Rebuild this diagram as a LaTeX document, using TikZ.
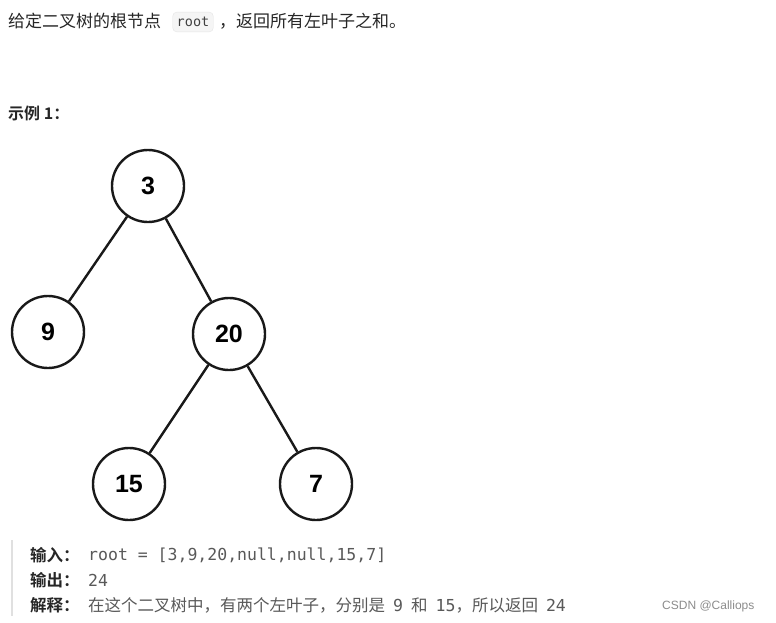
\documentclass[tikz,border=0pt]{standalone}
\usepackage{fontspec}
\setmainfont{Liberation Sans}
\newfontfamily\cjk{Noto Sans CJK SC}
\newfontfamily\cjkb{Noto Sans CJK SC Bold}
\setmonofont{DejaVu Sans Mono}
\begin{document}
\begin{tikzpicture}[x=1pt,y=-1pt,
  tn/.style={circle,draw=black!90,line width=2.4pt,minimum size=72pt,inner sep=0pt,font=\fontsize{25}{25}\selectfont\bfseries},
  ed/.style={line width=2.4pt,draw=black!90},
  txt/.style={anchor=west,inner sep=0pt,text=black!85},
  lab/.style={txt,font=\cjkb\fontsize{16.5}{17}\selectfont},
  mono/.style={font=\ttfamily\fontsize{16.5}{17}\selectfont,text=black!65}]
\useasboundingbox (0,0) rectangle (776,622);
\fill[white] (0,0) rectangle (776,622);
\node[txt,font=\cjk\fontsize{17}{18}\selectfont] (t1) at (8,21) {给定二叉树的根节点};
\node[draw=black!10,fill=black!4,rounded corners=4pt,inner xsep=4pt,inner ysep=5pt,font=\ttfamily\fontsize{13.5}{14}\selectfont,text=black!75] (rt) at (193,22) {root};
\node[txt,font=\cjk\fontsize{17}{18}\selectfont] (t2) at (219,21) {，返回所有左叶子之和。};
\node[txt,font=\cjkb\fontsize{16}{17}\selectfont] (ex) at (8,113) {示例 1：};
\node[tn] (a) at (148,186) {3};
\node[tn] (b) at (48,332) {9};
\node[tn] (c) at (229,334) {20};
\node[tn] (d) at (129,484) {15};
\node[tn] (e) at (316,484) {7};
\draw[ed] (a)--(b); \draw[ed] (a)--(c); \draw[ed] (c)--(d); \draw[ed] (c)--(e);
\fill[black!12] (11,540) rectangle (13,616);
\node[lab] (i1) at (30,555) {输入：};
\node[txt,mono] (i2) at (88,555) {root = [3,9,20,null,null,15,7]};
\node[lab] (o1) at (30,580) {输出：};
\node[txt,mono] (o2) at (88,580) {24};
\node[lab] (x1) at (30,605) {解释：};
\node[txt,font=\cjk\fontsize{16.5}{17}\selectfont,text=black!65] (x2) at (88,605) {在这个二叉树中，有两个左叶子，分别是\hspace{8pt}{\ttfamily 9}\hspace{8pt}和\hspace{8pt}{\ttfamily 15}，所以返回\hspace{8pt}{\ttfamily 24}};
\node[txt,font=\fontsize{12}{13}\selectfont,text=black!45] (cs) at (662,606) {CSDN @Calliops};
\end{tikzpicture}
\end{document}
